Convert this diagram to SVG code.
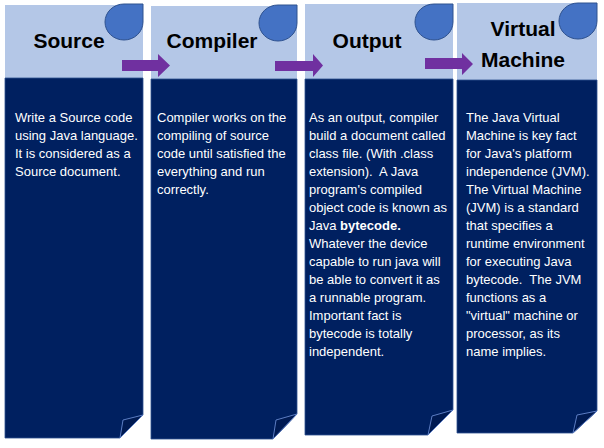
<svg xmlns="http://www.w3.org/2000/svg" width="604" height="448" viewBox="0 0 604 448">
<style>
.hdr{fill:#b4c7e7;}
.body{fill:#002060;stroke:#2f528f;stroke-width:0.8;}
.fold{fill:#001a52;stroke:#5b7cc2;stroke-width:1;}
.drop{fill:#4472c4;stroke:#2f528f;stroke-width:1;}
.title{font-family:"Liberation Sans",Arial,sans-serif;font-weight:bold;font-size:21px;fill:#000;}
.txt{font-family:"Liberation Sans",Arial,sans-serif;font-size:13px;fill:#fff;}
.arrow{fill:#7030a0;}
</style>
<rect width="604" height="448" fill="#fff"/>
<g id="source">
<rect class="hdr" x="5" y="5" width="138" height="74"/>
<path class="body" d="M5,78 H143 V415 L120,438 H5 Z"/>
<path class="fold" d="M120,438 L123,420 L143,415 Z"/>
<path class="drop" d="M124,4 H143 V22 A19,18 0 1 1 124,4 Z"/>
<text class="title" x="69" y="48" text-anchor="middle">Source</text>
<text class="txt" x="15" y="122">Write a Source code</text>
<text class="txt" x="15" y="140">using Java language.</text>
<text class="txt" x="15" y="158">It is considered as a</text>
<text class="txt" x="15" y="176">Source document.</text>
</g>
<g id="compiler">
<rect class="hdr" x="151" y="6" width="146" height="74"/>
<path class="body" d="M151,79 H297 V414 L273,439 H151 Z"/>
<path class="fold" d="M273,439 L276,420 L297,414 Z"/>
<path class="drop" d="M278,5 H297 V23 A19,18 0 1 1 278,5 Z"/>
<text class="title" x="212" y="48" text-anchor="middle">Compiler</text>
<text class="txt" x="157" y="122">Compiler works on the</text>
<text class="txt" x="157" y="140">compiling of source</text>
<text class="txt" x="157" y="158">code until satisfied the</text>
<text class="txt" x="157" y="176">everything and run</text>
<text class="txt" x="157" y="194">correctly.</text>
</g>
<g id="output">
<rect class="hdr" x="305" y="4" width="148" height="76"/>
<path class="body" d="M305,79 H453 V410 L428,435 H305 Z"/>
<path class="fold" d="M428,435 L432,416 L453,410 Z"/>
<path class="drop" d="M434,4 H453 V22 A19,18 0 1 1 434,4 Z"/>
<text class="title" x="367" y="48" text-anchor="middle">Output</text>
<text class="txt" x="309" y="122">As an output, compiler</text>
<text class="txt" x="309" y="140">build a document called</text>
<text class="txt" x="309" y="158">class file. (With .class</text>
<text class="txt" x="309" y="176" xml:space="preserve">extension).  A Java</text>
<text class="txt" x="309" y="194">program's compiled</text>
<text class="txt" x="309" y="212">object code is known as</text>
<text class="txt" x="309" y="230">Java <tspan font-weight="bold">bytecode.</tspan></text>
<text class="txt" x="309" y="248">Whatever the device</text>
<text class="txt" x="309" y="266">capable to run java will</text>
<text class="txt" x="309" y="284">be able to convert it as</text>
<text class="txt" x="309" y="302">a runnable program.</text>
<text class="txt" x="309" y="320">Important fact is</text>
<text class="txt" x="309" y="338">bytecode is totally</text>
<text class="txt" x="309" y="356">independent.</text>
</g>
<g id="virtual-machine">
<rect class="hdr" x="457" y="3" width="140" height="78"/>
<path class="body" d="M457,80 H597 V411 L573,433 H457 Z"/>
<path class="fold" d="M573,433 L577,415 L597,411 Z"/>
<path class="drop" d="M578,3 H597 V21 A19,18 0 1 1 578,3 Z"/>
<text class="title" x="523" y="36" text-anchor="middle">Virtual</text>
<text class="title" x="523" y="67" text-anchor="middle">Machine</text>
<text class="txt" x="466" y="122">The Java Virtual</text>
<text class="txt" x="466" y="140">Machine is key fact</text>
<text class="txt" x="466" y="158">for Java's platform</text>
<text class="txt" x="466" y="176">independence (JVM).</text>
<text class="txt" x="466" y="194">The Virtual Machine</text>
<text class="txt" x="466" y="212">(JVM) is a standard</text>
<text class="txt" x="466" y="230">that specifies a</text>
<text class="txt" x="466" y="248">runtime environment</text>
<text class="txt" x="466" y="266">for executing Java</text>
<text class="txt" x="466" y="284" xml:space="preserve">bytecode.  The JVM</text>
<text class="txt" x="466" y="302">functions as a</text>
<text class="txt" x="466" y="320">"virtual" machine or</text>
<text class="txt" x="466" y="338">processor, as its</text>
<text class="txt" x="466" y="356">name implies.</text>
</g>
<g id="connectors">
<polygon class="arrow" points="122,60 158,60 158,54 170,65.5 158,77 158,71 122,71"/>
<polygon class="arrow" points="275,61 313,61 313,54 323,65.5 313,77 313,71 275,71"/>
<polygon class="arrow" points="425,58 462,58 462,53 473,64 462,75 462,69 425,69"/>
</g>
</svg>
